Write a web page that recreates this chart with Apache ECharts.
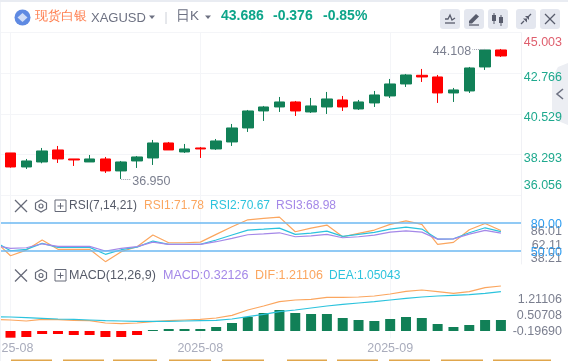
<!DOCTYPE html>
<html><head><meta charset="utf-8">
<style>html,body{margin:0;padding:0;background:#fff}#c{width:568px;height:361px}</style>
<script src="https://cdn.jsdelivr.net/npm/echarts@6/dist/echarts.min.js"></script>
</head><body><div id="c"></div>
<script>
const dates = ['2025-08-01','2025-08-04','2025-08-05','2025-08-06','2025-08-07','2025-08-08','2025-08-11','2025-08-12','2025-08-13','2025-08-14','2025-08-15','2025-08-18','2025-08-19','2025-08-20','2025-08-21','2025-08-22','2025-08-25','2025-08-26','2025-08-27','2025-08-28','2025-08-29','2025-09-01','2025-09-02','2025-09-03','2025-09-04','2025-09-05','2025-09-08','2025-09-09','2025-09-10','2025-09-11','2025-09-12','2025-09-15'];
const opens  = [38.382,37.611,37.886,38.547,38.051,37.886,38.051,37.391,37.941,38.106,38.932,38.437,38.657,38.602,38.987,39.758,40.694,40.914,41.190,40.639,40.914,41.300,40.804,41.135,41.520,42.181,42.658,42.566,41.685,41.795,43.117,44.053];
const closes = [37.611,37.941,38.492,38.051,37.996,38.051,37.391,37.886,38.161,38.932,38.547,38.602,38.602,39.042,39.758,40.694,40.914,41.190,40.694,40.970,41.355,40.914,41.190,41.575,42.181,42.676,42.566,41.685,41.851,43.062,44.053,43.723];
const lows   = [37.574,37.501,37.813,37.831,37.666,37.886,37.280,36.950,37.556,37.721,38.547,38.382,38.106,38.547,38.767,39.538,40.144,40.639,40.419,40.584,40.529,40.694,40.749,40.914,41.410,42.016,42.291,41.135,41.190,41.685,42.952,43.668];
const highs  = [38.382,38.051,38.657,38.767,38.051,38.271,38.161,37.941,38.216,39.097,38.987,38.877,38.712,39.152,39.978,40.749,40.970,41.465,41.245,41.410,41.741,41.520,41.300,41.795,42.456,42.732,43.007,42.676,41.961,43.117,44.108,44.108];
const rsi1 = [60.9,45.0,51.0,61.7,51.8,51.8,51.8,38.7,49.3,54.6,67.0,58.8,58.8,59.5,67.7,75.8,83.2,84.7,86.0,70.5,74.3,77.6,65.2,68.8,72.3,78.3,82.1,78.3,57.0,59.2,72.6,79.3,71.78];
const rsi2 = [60.0,50.3,51.8,58.1,53.9,53.9,53.9,46.5,51.4,54.2,60.6,57.0,57.0,57.0,61.7,67.0,72.3,73.3,74.4,67.7,69.1,71.2,65.6,67.7,69.8,73.3,75.4,73.3,62.7,63.0,69.4,74.7,70.67];
const rsi3 = [56.0,52.8,53.5,57.7,55.0,55.0,55.0,50.0,52.8,54.6,59.5,57.0,57.0,57.0,59.9,63.5,67.3,68.3,69.4,65.2,66.2,67.7,64.1,65.2,67.0,70.1,71.5,70.1,62.7,63.0,68.0,71.9,68.98];
const dif = [0.268,0.249,0.221,0.268,0.258,0.240,0.230,0.164,0.145,0.164,0.202,0.230,0.249,0.268,0.306,0.381,0.532,0.645,0.768,0.815,0.834,0.890,0.890,0.900,0.928,0.985,1.060,1.098,1.051,1.004,1.051,1.164,1.21106];
const dea = [0.343,0.334,0.315,0.296,0.277,0.268,0.249,0.230,0.221,0.211,0.211,0.211,0.221,0.230,0.240,0.277,0.343,0.409,0.485,0.532,0.589,0.645,0.692,0.730,0.768,0.815,0.862,0.900,0.928,0.947,0.966,1.004,1.05043];
const macd = [-0.195,-0.175,-0.088,-0.088,-0.117,-0.117,-0.175,-0.175,-0.117,0.012,0.058,0.058,0.058,0.117,0.234,0.409,0.525,0.613,0.525,0.496,0.496,0.379,0.321,0.292,0.350,0.409,0.379,0.204,0.117,0.175,0.321,0.32126];
const priceTicks = [45.003,42.766,40.529,38.293,36.056];
const rsiRules = [80,50];
const rsiTicks = [86.01,62.11,38.21];
const macdTicks = [1.21106,0.50708,-0.19690];
const xTicks = [0,12,24];

const GREEN='#118057', RED='#ff0000', GRID='#f4f5f8', FONT='"Liberation Sans",Arial,sans-serif';
const ORANGE='#fba65f', CYAN='#2cc3dd', PURPLE='#a488e8', GRAY='#7b7f8f', TEAL='#1fa98e', BTN='#e4e7ef', ICON='#585c6c';
const FS=12.5;

const xBase={type:'value',min:-0.664,max:32.27,axisLine:{show:false},
  axisTick:{show:false,customValues:xTicks},
  splitLine:{show:true,lineStyle:{color:GRID,width:1}},axisLabel:{show:false}};
const yBase={type:'value',position:'right',axisLine:{show:false},axisTick:{show:false},splitLine:{show:false}};
const lblBase={align:'right',margin:41,fontSize:FS,fontFamily:FONT};
const tickRich={
  top:{color:'#df5f6e',fontSize:FS,fontFamily:FONT,padding:[20,0,0,0]},
  mid:{color:TEAL,fontSize:FS,fontFamily:FONT,padding:[8,0,0,0]},
  bot:{color:TEAL,fontSize:FS,fontFamily:FONT,padding:[0,0,20,0]}};
const shifted=(color,digits)=>({
  formatter:v=>`{v|${v.toFixed(digits)}}`,
  rich:{v:{color,fontSize:FS,fontFamily:FONT,padding:[4,0,0,0]}}
});

const T=(x,y,text,fill,o={})=>({type:'text',z:50,x,y,style:{text,fill,font:`${o.w||'normal'} ${o.s||FS}px ${FONT}`,textVerticalAlign:'middle',textBaseline:'middle'}});
const L=(x1,y1,x2,y2,stroke,w=1.3)=>({type:'line',z:50,shape:{x1,y1,x2,y2},style:{stroke,lineWidth:w}});
const P=(points,fill,z=50)=>({type:'polygon',z,shape:{points},style:{fill}});
const PL=(points,stroke,w=1.3)=>({type:'polyline',z:50,shape:{points},style:{stroke,lineWidth:w,fill:'none'}});
const R=(x,y,width,height,fill,r=0,stroke)=>({type:'rect',z:40,shape:{x,y,width,height,r},style:stroke?{fill,stroke,lineWidth:1}:{fill}});
function rowIcons(y){return [
  L(15,y-6,27,y+6,'#666a78'),L(27,y-6,15,y+6,'#666a78'),
  {type:'polygon',z:50,shape:{points:[[41,y-6],[46.5,y-3],[46.5,y+3],[41,y+6],[35.5,y+3],[35.5,y-3]]},style:{fill:'none',stroke:'#666a78',lineWidth:1.2}},
  {type:'circle',z:50,shape:{cx:41,cy:y,r:2},style:{fill:'none',stroke:'#666a78',lineWidth:1.2}},
  R(55,y-6,11,11.5,'#fff',0,'#666a78'),L(57.5,y,63.5,y,'#666a78',1),L(60.5,y-3,60.5,y+3,'#666a78',1)];}
const stripes=[[11,52],[63,104],[113,157],[169,211],[222,264],[287,327],[337,378],[389,430],[441,483],[493,551]];

const graphic=[
  P([[568,63],[558,67],[552,78],[552,110],[558,121],[568,125]],'#eceef3',-1),
  R(0,0,568,2,'#e9ecf2'),R(0,2,1,359,'#f1f3f7'),
  {type:'circle',z:50,shape:{cx:22.5,cy:17.5,r:8},style:{fill:'#5f8ae2'}},
  P([[22.5,13],[27.5,17.5],[22.5,22],[17.5,17.5]],'#cfdcf7'),
  T(35,16.5,'现货白银','#ff7f50',{s:13}),T(91,18,'XAGUSD','#6d7182',{s:13}),
  P([[149,15.5],[155,15.5],[152,19]],'#6d7182'),L(166,12,166,24,'#ccd0d8',1),
  T(176,16.5,'日K','#6d7182',{s:13.5}),P([[205,15.5],[211,15.5],[208,19]],'#6d7182'),
  T(221,16.5,'43.686','#0ea58a',{w:'bold',s:14}),T(273,16.5,'-0.376','#0ea58a',{w:'bold',s:14}),T(323,16.5,'-0.85%','#0ea58a',{w:'bold',s:14}),
  R(440,9,20,20,BTN,3),R(464,9,20,20,BTN,3),R(488,9,20,20,BTN,3),R(516,9,20,20,BTN,3),R(540,9,20,20,BTN,3),
  PL([[445,19],[448,19],[450,15],[452,20],[455,18]],ICON),L(445,23,455,23,ICON),
  P([[469,21],[476,14],[479,16.5],[472,23.5],[469,23.5]],ICON),L(469,25,479,25,ICON),
  L(494,13,494,24,ICON,1),R(492,15,4,6,ICON),L(501,15,501,26,ICON,1),R(499,17,4,6,ICON),
  L(521,24,524,21,ICON),P([[523,18.5],[527,18.5],[527,22.5]],ICON),L(531,14,528,17,ICON),P([[525,16],[529,20],[529,16]],ICON),
  L(545,14,555,24,ICON),L(555,14,545,24,ICON),
  PL([[563,89],[557,94],[563,99]],'#6d7182',1.6),
  ...rowIcons(206),...rowIcons(275.5),
  T(69,206,'RSI(7,14,21)','#555a68',{s:12}),T(144,206,'RSI1:71.78',ORANGE,{s:12}),T(210,206,'RSI2:70.67',CYAN,{s:12}),T(276,206,'RSI3:68.98',PURPLE,{s:12}),
  T(69,275.5,'MACD(12,26,9)','#555a68'),T(163,275.5,'MACD:0.32126',PURPLE),T(255,275.5,'DIF:1.21106',ORANGE),T(329,275.5,'DEA:1.05043',CYAN,{s:12}),
  ...stripes.map(s=>R(s[0],359.5,s[1]-s[0],1.5,'#e0a64c'))
];

const lineSeries=(vals,color,xi,yi)=>({type:'line',xAxisIndex:xi,yAxisIndex:yi,symbol:'none',smooth:false,clip:true,
  lineStyle:{color,width:1.2},data:vals.map((v,i)=>[i-1,v]),silent:true,z:3});
const blank=(i,yi)=>({type:'line',xAxisIndex:i,yAxisIndex:yi,symbol:'none',data:[],silent:true});

const option={
  animation:false,backgroundColor:'#fff',graphic,
  grid:[
    {left:0,top:32.7,width:521,height:162.5,show:false,outerBoundsMode:'none'},
    {left:0,top:195.2,width:521,height:68.8,show:false,outerBoundsMode:'none'},
    {left:0,top:264,width:521,height:74.3,show:false,outerBoundsMode:'none'}
  ],
  xAxis:[
    Object.assign({},xBase,{gridIndex:0}),
    Object.assign({},xBase,{gridIndex:1}),
    Object.assign({},xBase,{gridIndex:2,axisLabel:{show:true,customValues:xTicks,color:'#a9acbc',fontSize:FS,fontFamily:FONT,margin:4,
      formatter:v=>dates[v].slice(0,7)}})
  ],
  yAxis:[
    Object.assign({},yBase,{gridIndex:0,min:36.056,max:45.003,
      axisLine:{show:true,onZero:false,lineStyle:{color:'#f0f1f5'}},
      axisTick:{show:false,customValues:priceTicks},
      splitLine:{show:true,lineStyle:{color:GRID,width:1}},
      axisLabel:Object.assign({},lblBase,{customValues:priceTicks,
        formatter:v=>{const k=v>45?'top':v<36.1?'bot':'mid';return `{${k}|${v.toFixed(3)}}`;},rich:tickRich})}),
    Object.assign({},yBase,{gridIndex:1,min:36.2,max:109.37,z:5,
      axisLine:{show:true,onZero:false,lineStyle:{color:'#f0f1f5'}},
      axisTick:{show:false,customValues:rsiRules},
      splitLine:{show:true,lineStyle:{color:'#6cb8f2',width:1.6}},
      axisLabel:Object.assign({},lblBase,{customValues:rsiRules},shifted('#2f9df0',2))}),
    Object.assign({},yBase,{gridIndex:1,min:24.5,max:148,
      axisLabel:Object.assign({},lblBase,{customValues:rsiTicks},shifted(GRAY,2))}),
    Object.assign({},yBase,{gridIndex:2,min:-0.213,max:1.956,axisLabel:{show:false}}),
    Object.assign({},yBase,{gridIndex:2,min:-0.269,max:1.834,axisLabel:{show:false}}),
    Object.assign({},yBase,{gridIndex:2,min:-0.575,max:2.694,
      axisLabel:Object.assign({},lblBase,{customValues:macdTicks},shifted(GRAY,5))})
  ],
  series:[
    {type:'candlestick',xAxisIndex:0,yAxisIndex:0,barWidth:11,silent:true,
      encode:{x:0,y:[1,2,3,4]},
      data:dates.map((d,i)=>[i,opens[i],closes[i],lows[i],highs[i]]),
      itemStyle:{color:GREEN,color0:RED,borderColor:GREEN,borderColor0:RED,borderWidth:1},
      markPoint:{silent:true,symbol:'circle',symbolSize:0,animation:false,
        data:[
          {coord:[30,44.108],value:'44.108',label:{position:'left',distance:14,offset:[0,3]}},
          {coord:[7,36.95],value:'36.950',label:{position:'right',distance:11,offset:[0,3]}}
        ],
        label:{show:true,color:GRAY,fontSize:FS,fontFamily:FONT,formatter:p=>p.value}},
      markLine:{silent:true,symbol:'none',animation:false,label:{show:false},
        lineStyle:{color:'#9a9eab',type:'dotted',width:1},
        data:[[{coord:[30,44.108]},{coord:[29.2,44.108]}],[{coord:[7,36.95]},{coord:[7.6,36.95]}]]}},
    lineSeries(rsi1,ORANGE,1,1),lineSeries(rsi2,CYAN,1,1),lineSeries(rsi3,PURPLE,1,1),
    blank(1,2),
    {type:'bar',xAxisIndex:2,yAxisIndex:3,barWidth:10,silent:true,barMinHeight:1,
      data:macd.map((v,i)=>({value:[i,v],itemStyle:{color:v<0?RED:GREEN}}))},
    lineSeries(dif,ORANGE,2,4),lineSeries(dea,CYAN,2,4),
    blank(2,5)
  ]
};
const chart=echarts.init(document.getElementById('c'),null,{renderer:'canvas'});
chart.setOption(option);
</script></body></html>
